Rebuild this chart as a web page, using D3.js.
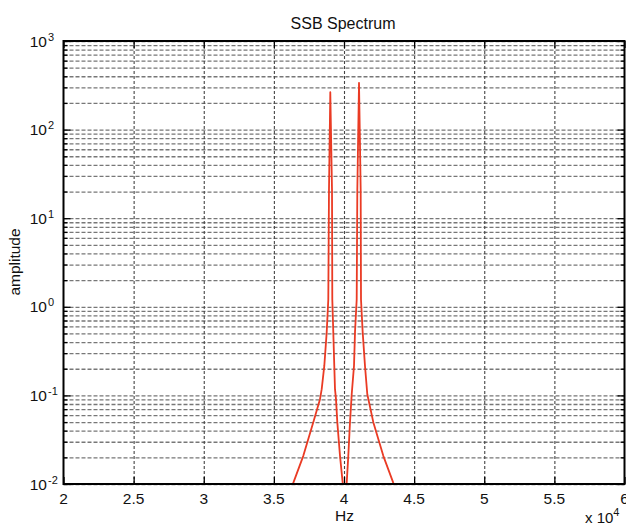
<!DOCTYPE html>
<html>
<head>
<meta charset="utf-8">
<script src="https://cdn.jsdelivr.net/npm/d3@7"></script>
<style>
  body { margin: 0; background: #fff; }
  text { font-family: "Liberation Sans", Arial, sans-serif; fill: #111; }
</style>
</head>
<body>
<div id="chart"></div>
<script>
// spectrum trace (Hz, amplitude)
var specHz = [36000, 36385, 37098, 37811, 38289, 38410, 38595, 38766, 38881, 38930, 39023,
              39145, 39166, 39237, 39308, 39358, 39430, 39522, 39715, 39907, 40050,
              40193, 40307, 40428, 40550, 40713, 40784, 40905, 40950, 41070,
              41190, 41212, 41333, 41497, 41661, 42089, 42802, 43515, 44000];
var specAmp = [0.007, 0.0103, 0.0208, 0.0499, 0.0906, 0.1175, 0.215, 0.515, 1.21, 21, 264,
               21, 1.21, 0.515, 0.215, 0.1175, 0.0906, 0.0499, 0.0208, 0.0103, 0.005,
               0.0103, 0.0208, 0.0499, 0.103, 0.215, 0.515, 1.21, 21, 337,
               21, 1.21, 0.515, 0.215, 0.103, 0.0499, 0.0208, 0.0103, 0.007];

var xTicks = [2, 2.5, 3, 3.5, 4, 4.5, 5, 5.5, 6];   // x 10^4 Hz
var yExps = [-2, -1, 0, 1, 2, 3];

var w = 626, h = 525;
var pLeft = 63.5, pRight = 624.5, pTop = 41, pBottom = 484;

var x = d3.scaleLinear().domain([20000, 60000]).range([pLeft, pRight]);
var y = d3.scaleLog().domain([0.01, 1000]).range([pBottom, pTop]);

var majors = yExps.map(function(e){ return Math.pow(10, e); });
var minors = [];
yExps.slice(0, -1).forEach(function(e){
  for (var k = 2; k <= 9; k++) minors.push(k * Math.pow(10, e));
});
var xVals = xTicks.map(function(t){ return t * 10000; });

var svg = d3.select("#chart")
  .append("svg")
  .attr("width", w)
  .attr("height", h);

svg.append("rect").attr("width", w).attr("height", h).attr("fill", "#fff");

// grid
var gy = svg.append("g")
  .attr("transform", "translate(" + pLeft + ",0)")
  .call(d3.axisRight(y).tickValues(majors.concat(minors)).tickSize(pRight - pLeft).tickFormat(""));
gy.select(".domain").remove();
gy.selectAll("line")
  .attr("stroke", "#777")
  .attr("stroke-width", 1.3)
  .attr("stroke-dasharray", "4,2");

var gx = svg.append("g")
  .attr("transform", "translate(0," + pTop + ")")
  .call(d3.axisBottom(x).tickValues(xVals.slice(1, -1)).tickSize(pBottom - pTop).tickFormat(""));
gx.select(".domain").remove();
gx.selectAll("line")
  .attr("stroke", "#444")
  .attr("stroke-width", 1.1)
  .attr("stroke-dasharray", "3,2");

// inward ticks on all four sides
function tickAxis(axis, tx, ty, vals, size) {
  var g = svg.append("g")
    .attr("transform", "translate(" + tx + "," + ty + ")")
    .call(axis.tickValues(vals).tickSize(size).tickFormat(""));
  g.select(".domain").remove();
  g.selectAll("line").attr("stroke", "#000").attr("stroke-width", 1.3);
}
tickAxis(d3.axisLeft(y), pLeft, 0, majors, -7);
tickAxis(d3.axisLeft(y), pLeft, 0, minors, -4);
tickAxis(d3.axisRight(y), pRight, 0, majors, -7);
tickAxis(d3.axisRight(y), pRight, 0, minors, -4);
tickAxis(d3.axisBottom(x), 0, pBottom, xVals, -7);
tickAxis(d3.axisTop(x), 0, pTop, xVals, -7);

// curve
svg.append("clipPath").attr("id", "plotclip")
  .append("rect")
  .attr("x", pLeft).attr("y", pTop)
  .attr("width", pRight - pLeft).attr("height", pBottom - pTop);

var line = d3.line()
  .x(function(d, i){ return x(specHz[i]); })
  .y(function(d, i){ return y(specAmp[i]); });

svg.append("path")
  .datum(specHz)
  .attr("clip-path", "url(#plotclip)")
  .attr("d", line)
  .attr("fill", "none")
  .attr("stroke", "#ea3b24")
  .attr("stroke-width", 1.8)
  .attr("stroke-linejoin", "round");

// frame
svg.append("rect")
  .attr("x", pLeft).attr("y", pTop)
  .attr("width", pRight - pLeft).attr("height", pBottom - pTop)
  .attr("fill", "none")
  .attr("stroke", "#000")
  .attr("stroke-width", 2);

// tick labels
svg.selectAll(".xl")
  .data(xTicks)
  .enter()
  .append("text")
  .attr("x", function(d){ return x(d * 10000); })
  .attr("y", 504)
  .attr("text-anchor", "middle")
  .style("font-size", "15.5px")
  .text(function(d){ return d; });

var yl = svg.selectAll(".yl")
  .data(yExps)
  .enter()
  .append("g");
yl.append("text")
  .attr("x", 47)
  .attr("y", function(d){ return y(Math.pow(10, d)) + 5.5; })
  .attr("text-anchor", "end")
  .style("font-size", "15.5px")
  .text("10");
yl.append("text")
  .attr("x", 48)
  .attr("y", function(d){ return y(Math.pow(10, d)) - 0.5; })
  .style("font-size", "11px")
  .text(function(d){ return d; });

// titles
svg.append("text")
  .attr("x", 343).attr("y", 29)
  .attr("text-anchor", "middle")
  .style("font-size", "16px")
  .text("SSB Spectrum");

svg.append("text")
  .attr("transform", "translate(20,262) rotate(-90)")
  .attr("text-anchor", "middle")
  .style("font-size", "15.5px")
  .text("amplitude");

svg.append("text")
  .attr("x", 344.5).attr("y", 521)
  .attr("text-anchor", "middle")
  .style("font-size", "15.5px")
  .text("Hz");

var xe = svg.append("text")
  .attr("x", 585).attr("y", 523)
  .style("font-size", "15px");
xe.append("tspan").text("x 10");
xe.append("tspan").attr("dy", -7).style("font-size", "11px").text("4");
</script>
</body>
</html>
